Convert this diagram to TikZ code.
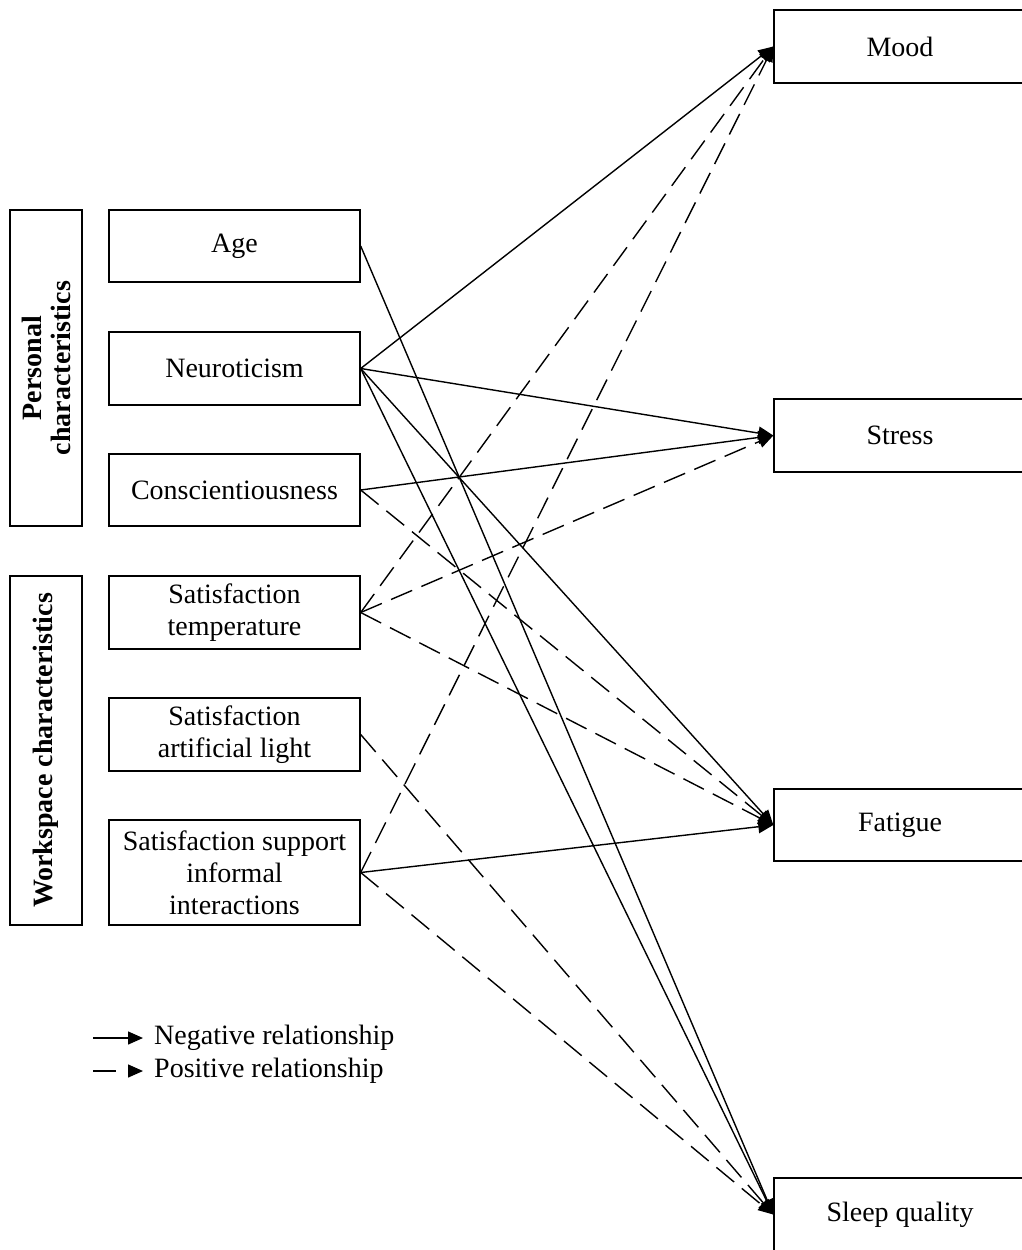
\documentclass[tikz,border=0pt]{standalone}
\usepackage{fontspec}
\setmainfont{Liberation Serif}
\usetikzlibrary{arrows.meta}
\begin{document}
\begin{tikzpicture}[x=1pt,y=-1pt,
  every node/.style={font=\fontsize{28}{32}\selectfont},
  box/.style={draw,line width=1.4pt,rectangle,inner sep=0pt,align=center},
  mid/.style={box,minimum width=251pt,minimum height=73pt},
  outb/.style={box,minimum width=252pt,minimum height=73pt},
  grp/.style={box,minimum width=72pt},
  negrel/.style={line width=1.4pt,-{Triangle[length=15pt,width=13pt]}},
  posrel/.style={negrel,dash pattern=on 23pt off 10pt}]
\useasboundingbox (0,0) rectangle (1021,1250);
% group boxes
\node[grp,minimum height=316pt] (pers) at (46,368) {};
\node[rotate=90,align=center,font=\fontsize{28}{29}\selectfont\bfseries] (perslbl) at (pers.center) {Personal\\characteristics};
\node[grp,minimum height=349pt] (work) at (46,750.5) {};
\node[rotate=90,font=\fontsize{28}{32}\selectfont\bfseries] (worklbl) at (work.center) {Workspace characteristics};
% middle boxes
\node[mid,minimum height=72pt] (age) at (234.5,246) {Age};
\node[mid] (neur) at (234.5,368.5) {Neuroticism};
\node[mid,minimum height=72pt] (cons) at (234.5,490) {Conscientiousness};
\node[mid] (temp) at (234.5,612.5) {Satisfaction\\temperature};
\node[mid] (light) at (234.5,734.5) {Satisfaction\\artificial light};
\node[mid,minimum height=105pt] (inter) at (234.5,872.5) {Satisfaction support\\informal\\interactions};
% outcome boxes
\node[outb] (mood) at (900,46.5) {Mood};
\node[outb] (stress) at (900,435.5) {Stress};
\node[outb,minimum height=72pt] (fat) at (900,825) {Fatigue};
\node[outb] (sleep) at (900,1214.5) {Sleep quality};
% negative relationships
\draw[negrel] (age.east) -- (sleep.west);
\draw[negrel] (neur.east) -- (mood.west);
\draw[negrel] (neur.east) -- (stress.west);
\draw[negrel] (neur.east) -- (fat.west);
\draw[negrel] (neur.east) -- (sleep.west);
\draw[negrel] (cons.east) -- (stress.west);
\draw[negrel] (inter.east) -- (fat.west);
% positive relationships
\draw[posrel] (cons.east) -- (fat.west);
\draw[posrel] (temp.east) -- (mood.west);
\draw[posrel] (temp.east) -- (stress.west);
\draw[posrel] (temp.east) -- (fat.west);
\draw[posrel] (light.east) -- (sleep.west);
\draw[posrel] (inter.east) -- (mood.west);
\draw[posrel] (inter.east) -- (sleep.west);
% legend
\node[anchor=west,inner sep=0pt] (negl) at (154,1038) {Negative relationship};
\node[anchor=west,inner sep=0pt] (posl) at (154,1071) {Positive relationship};
\coordinate (negs) at (93,1038);
\coordinate (poss) at (93,1071);
\draw[negrel] (negs) -- ([xshift=-11pt]negl.west);
\draw[negrel,dash pattern=on 23pt off 14pt] (poss) -- ([xshift=-11pt]posl.west);
\end{tikzpicture}
\end{document}
